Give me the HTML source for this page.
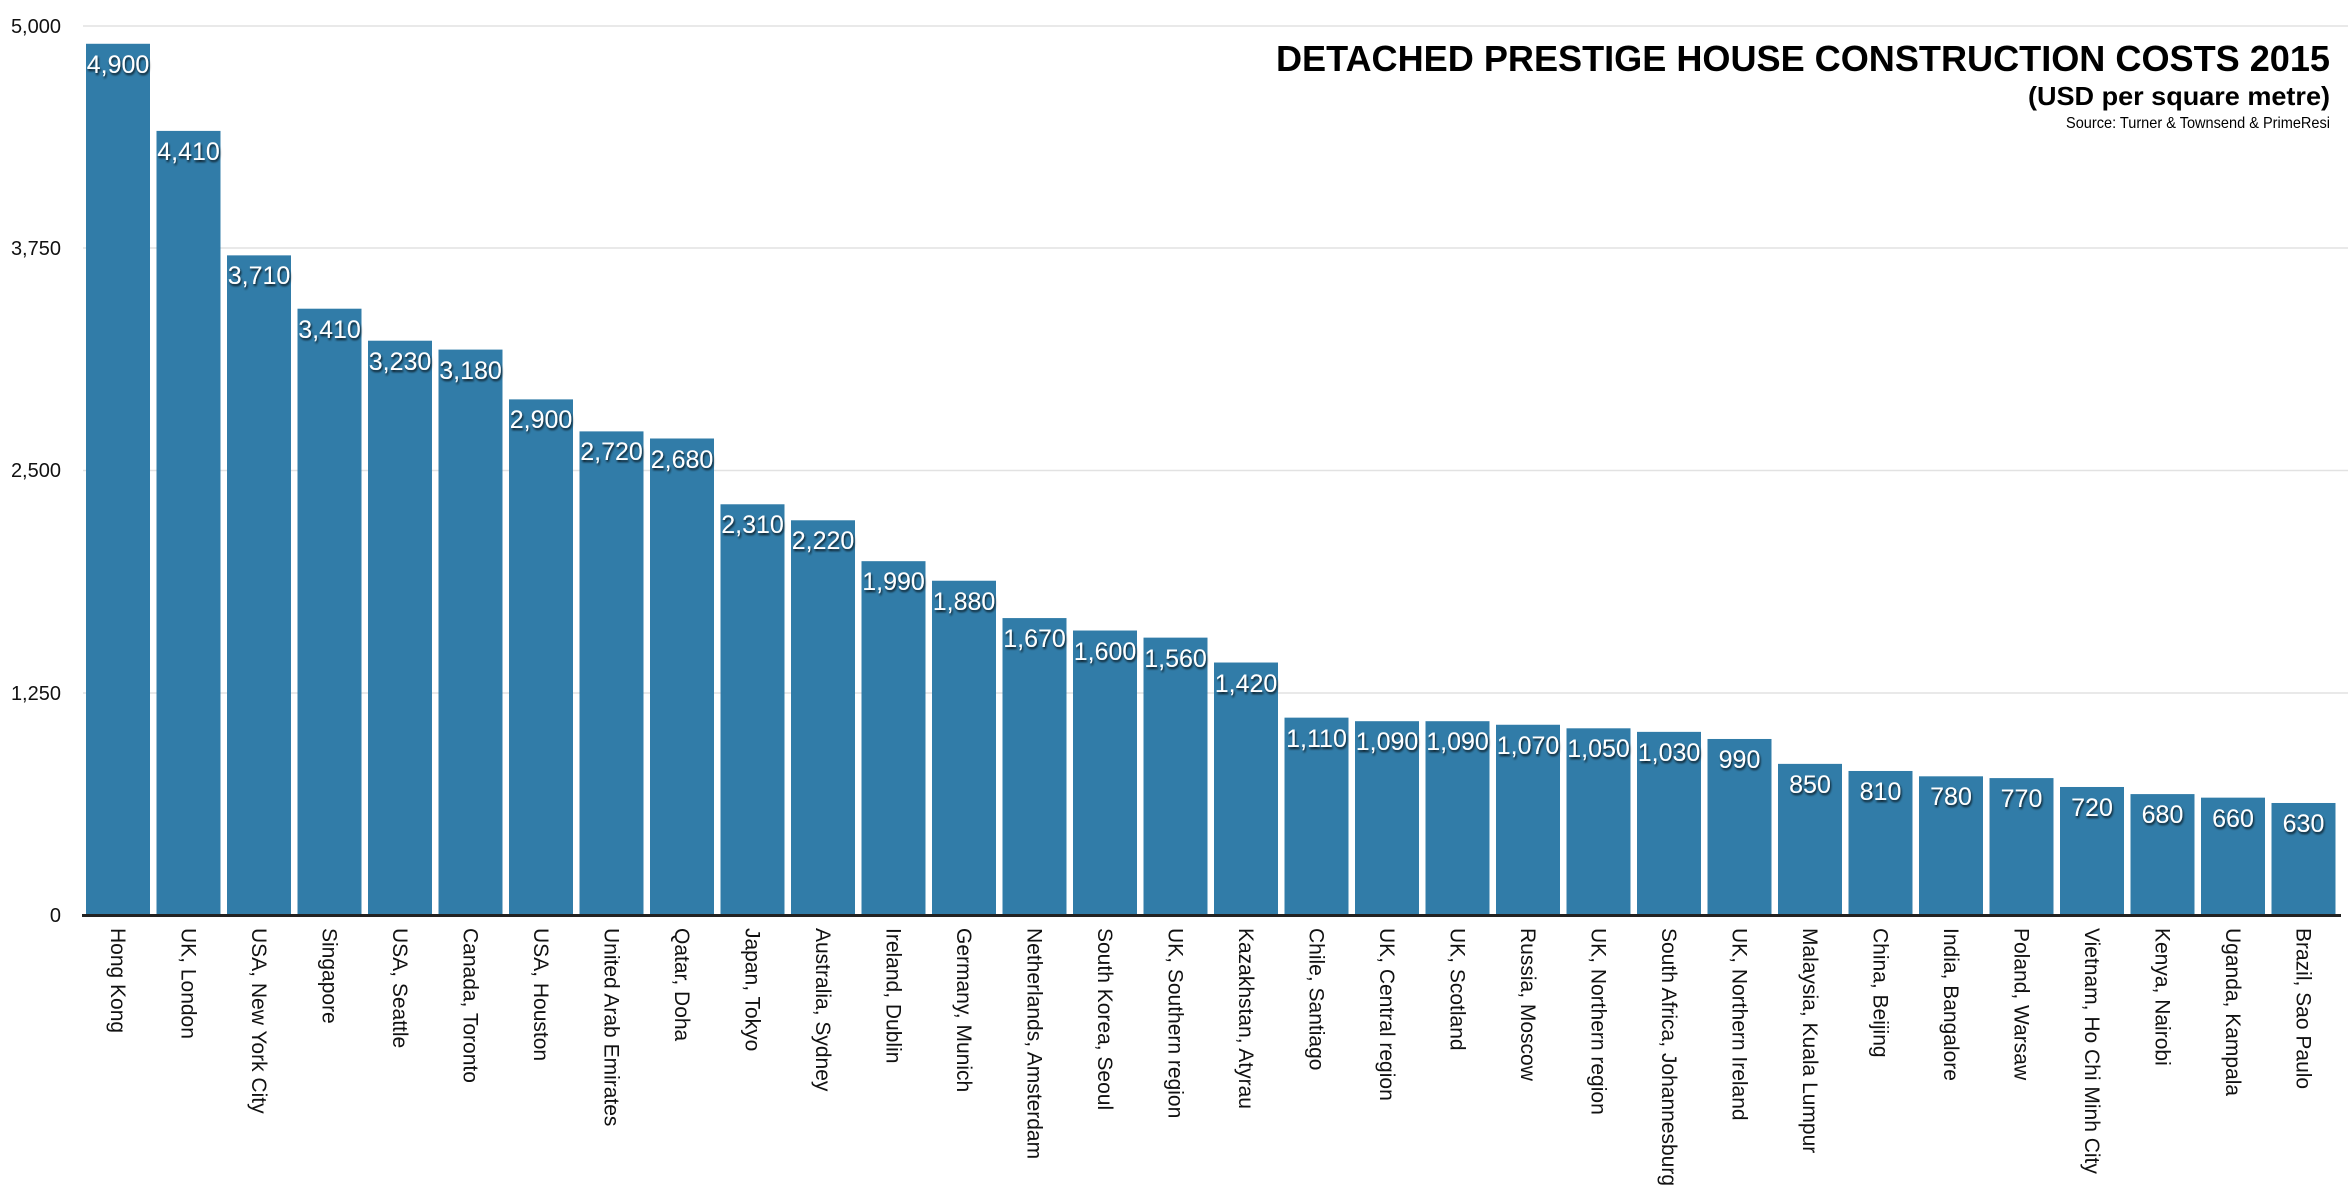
<!DOCTYPE html>
<html><head><meta charset="utf-8"><style>
html,body{margin:0;padding:0;background:#fff}
svg{display:block;font-family:"Liberation Sans",Arial,sans-serif}
.v{fill:#fff;font-size:25px;text-anchor:middle;filter:url(#sh)}
.x{font-size:21px;fill:#111}
.y{font-size:20px;fill:#111;text-anchor:end}
</style></head><body>
<svg width="2348" height="1198" viewBox="0 0 2348 1198" xmlns="http://www.w3.org/2000/svg">
<defs><filter id="sh" x="-20%" y="-30%" width="140%" height="160%"><feDropShadow dx="1" dy="2" stdDeviation="1" flood-color="#000" flood-opacity="0.8"/></filter></defs>
<g stroke="#e2e2e2" stroke-width="1.5">
<line x1="83" y1="26" x2="2348" y2="26"/><line x1="83" y1="248" x2="2348" y2="248"/><line x1="83" y1="470.5" x2="2348" y2="470.5"/><line x1="83" y1="693" x2="2348" y2="693"/>
</g>
<text class="y" x="61" y="33">5,000</text>
<text class="y" x="61" y="255">3,750</text>
<text class="y" x="61" y="477">2,500</text>
<text class="y" x="61" y="700">1,250</text>
<text class="y" x="61" y="922">0</text>
<g fill="#317ca8" transform="translate(0,915) scale(1,-0.1778)">
<rect x="86" y="0" width="64" height="4900"/><rect x="156.5" y="0" width="64" height="4410"/><rect x="227" y="0" width="64" height="3710"/><rect x="297.5" y="0" width="64" height="3410"/><rect x="368" y="0" width="64" height="3230"/><rect x="438.5" y="0" width="64" height="3180"/><rect x="509" y="0" width="64" height="2900"/><rect x="579.5" y="0" width="64" height="2720"/><rect x="650" y="0" width="64" height="2680"/><rect x="720.5" y="0" width="64" height="2310"/><rect x="791" y="0" width="64" height="2220"/><rect x="861.5" y="0" width="64" height="1990"/><rect x="932" y="0" width="64" height="1880"/><rect x="1002.5" y="0" width="64" height="1670"/><rect x="1073" y="0" width="64" height="1600"/><rect x="1143.5" y="0" width="64" height="1560"/><rect x="1214" y="0" width="64" height="1420"/><rect x="1284.5" y="0" width="64" height="1110"/><rect x="1355" y="0" width="64" height="1090"/><rect x="1425.5" y="0" width="64" height="1090"/><rect x="1496" y="0" width="64" height="1070"/><rect x="1566.5" y="0" width="64" height="1050"/><rect x="1637" y="0" width="64" height="1030"/><rect x="1707.5" y="0" width="64" height="990"/><rect x="1778" y="0" width="64" height="850"/><rect x="1848.5" y="0" width="64" height="810"/><rect x="1919" y="0" width="64" height="780"/><rect x="1989.5" y="0" width="64" height="770"/><rect x="2060" y="0" width="64" height="720"/><rect x="2130.5" y="0" width="64" height="680"/><rect x="2201" y="0" width="64" height="660"/><rect x="2271.5" y="0" width="64" height="630"/>
</g>
<line x1="82" y1="915.5" x2="2341" y2="915.5" stroke="#222" stroke-width="3"/>
<text class="v" x="118" y="73">4,900</text>
<text class="v" x="188.5" y="160">4,410</text>
<text class="v" x="259" y="284">3,710</text>
<text class="v" x="329.5" y="338">3,410</text>
<text class="v" x="400" y="370">3,230</text>
<text class="v" x="470.5" y="379">3,180</text>
<text class="v" x="541" y="428">2,900</text>
<text class="v" x="611.5" y="460">2,720</text>
<text class="v" x="682" y="468">2,680</text>
<text class="v" x="752.5" y="533">2,310</text>
<text class="v" x="823" y="549">2,220</text>
<text class="v" x="893.5" y="590">1,990</text>
<text class="v" x="964" y="610">1,880</text>
<text class="v" x="1034.5" y="647">1,670</text>
<text class="v" x="1105" y="660">1,600</text>
<text class="v" x="1175.5" y="667">1,560</text>
<text class="v" x="1246" y="692">1,420</text>
<text class="v" x="1316.5" y="747">1,110</text>
<text class="v" x="1387" y="750">1,090</text>
<text class="v" x="1457.5" y="750">1,090</text>
<text class="v" x="1528" y="754">1,070</text>
<text class="v" x="1598.5" y="757">1,050</text>
<text class="v" x="1669" y="761">1,030</text>
<text class="v" x="1739.5" y="768">990</text>
<text class="v" x="1810" y="793">850</text>
<text class="v" x="1880.5" y="800">810</text>
<text class="v" x="1951" y="805">780</text>
<text class="v" x="2021.5" y="807">770</text>
<text class="v" x="2092" y="816">720</text>
<text class="v" x="2162.5" y="823">680</text>
<text class="v" x="2233" y="827">660</text>
<text class="v" x="2303.5" y="832">630</text>
<g class="x">
<text transform="translate(111,928) rotate(90)">Hong Kong</text>
<text transform="translate(181.5,928) rotate(90)">UK, London</text>
<text transform="translate(252,928) rotate(90)">USA, New York City</text>
<text transform="translate(322.5,928) rotate(90)">Singapore</text>
<text transform="translate(393,928) rotate(90)">USA, Seattle</text>
<text transform="translate(463.5,928) rotate(90)">Canada, Toronto</text>
<text transform="translate(534,928) rotate(90)">USA, Houston</text>
<text transform="translate(604.5,928) rotate(90)">United Arab Emirates</text>
<text transform="translate(675,928) rotate(90)">Qatar, Doha</text>
<text transform="translate(745.5,928) rotate(90)">Japan, Tokyo</text>
<text transform="translate(816,928) rotate(90)">Australia, Sydney</text>
<text transform="translate(886.5,928) rotate(90)">Ireland, Dublin</text>
<text transform="translate(957,928) rotate(90)">Germany, Munich</text>
<text transform="translate(1027.5,928) rotate(90)">Netherlands, Amsterdam</text>
<text transform="translate(1098,928) rotate(90)">South Korea, Seoul</text>
<text transform="translate(1168.5,928) rotate(90)">UK, Southern region</text>
<text transform="translate(1239,928) rotate(90)">Kazakhstan, Atyrau</text>
<text transform="translate(1309.5,928) rotate(90)">Chile, Santiago</text>
<text transform="translate(1380,928) rotate(90)">UK, Central region</text>
<text transform="translate(1450.5,928) rotate(90)">UK, Scotland</text>
<text transform="translate(1521,928) rotate(90)">Russia, Moscow</text>
<text transform="translate(1591.5,928) rotate(90)">UK, Northern region</text>
<text transform="translate(1662,928) rotate(90)">South Africa, Johannesburg</text>
<text transform="translate(1732.5,928) rotate(90)">UK, Northern Ireland</text>
<text transform="translate(1803,928) rotate(90)">Malaysia, Kuala Lumpur</text>
<text transform="translate(1873.5,928) rotate(90)">China, Beijing</text>
<text transform="translate(1944,928) rotate(90)">India, Bangalore</text>
<text transform="translate(2014.5,928) rotate(90)">Poland, Warsaw</text>
<text transform="translate(2085,928) rotate(90)">Vietnam, Ho Chi Minh City</text>
<text transform="translate(2155.5,928) rotate(90)">Kenya, Nairobi</text>
<text transform="translate(2226,928) rotate(90)">Uganda, Kampala</text>
<text transform="translate(2296.5,928) rotate(90)">Brazil, Sao Paulo</text>
</g>
<text x="2330" y="71" text-anchor="end" font-weight="bold" font-size="36" textLength="1054" lengthAdjust="spacingAndGlyphs" fill="#000">DETACHED PRESTIGE HOUSE CONSTRUCTION COSTS 2015</text>
<text x="2330" y="105" text-anchor="end" font-weight="bold" font-size="26" textLength="302" lengthAdjust="spacingAndGlyphs" fill="#000">(USD per square metre)</text>
<text x="2330" y="128" text-anchor="end" font-size="16" textLength="264" lengthAdjust="spacingAndGlyphs" fill="#000">Source: Turner &amp; Townsend &amp; PrimeResi</text>
</svg>
</body></html>
